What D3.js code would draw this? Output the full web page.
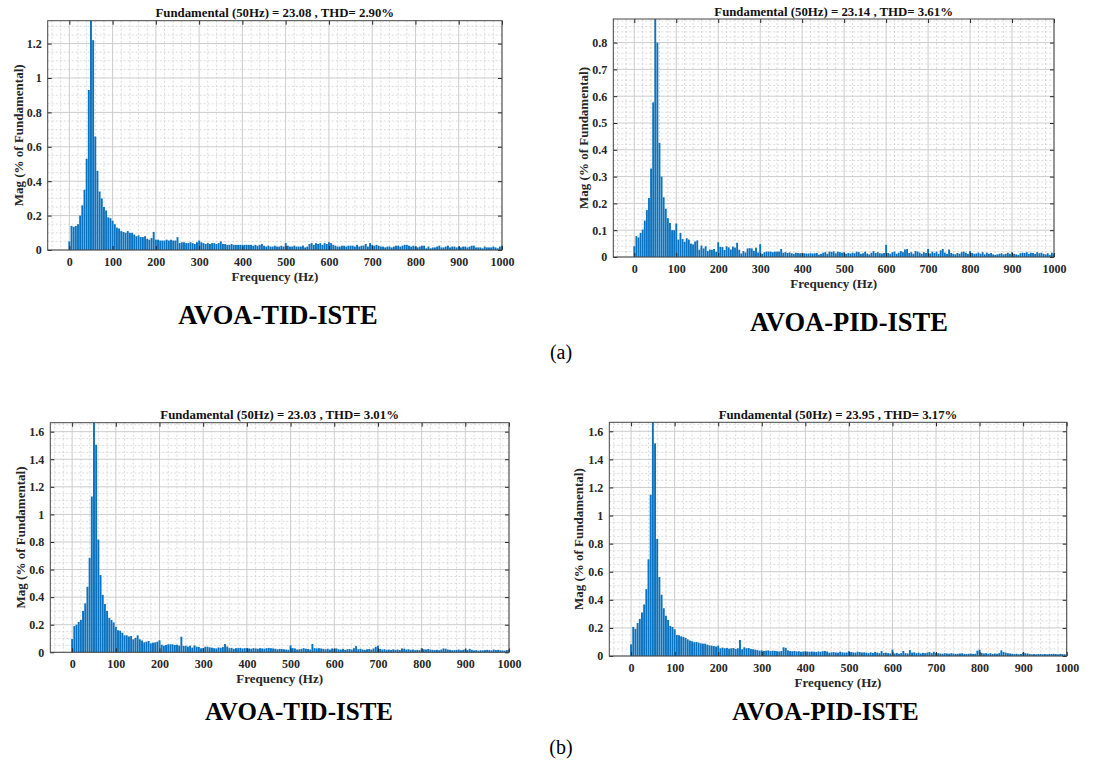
<!DOCTYPE html>
<html>
<head>
<meta charset="utf-8">
<script src="https://cdn.jsdelivr.net/npm/d3@7"></script>
<style>
body{margin:0;background:#fff}
text{font-family:"Liberation Serif","Times New Roman",serif}
</style>
</head>
<body>
<svg id="fig" width="1096" height="760"></svg>
<script>
// harmonic bins, 5 Hz resolution
var freqs = d3.range(0, 1001, 5);

// Mag (% of fundamental); the 50 Hz bin is the fundamental itself
var magTidA = [
0.05,0.14,0.135,0.14,0.15,0.20,0.26,0.35,0.53,0.93, 100,1.22,0.66,0.46,0.34,0.30,0.25,0.23,0.19,0.185,
0.17,0.15,0.13,0.125,0.11,0.105,0.10,0.11,0.10,0.10, 0.09,0.08,0.085,0.075,0.075,0.08,0.065,0.06,0.07,0.105,
0.06,0.06,0.055,0.055,0.055,0.06,0.055,0.06,0.055,0.055, 0.075,0.04,0.045,0.045,0.04,0.04,0.045,0.04,0.035,0.045,
0.055,0.045,0.04,0.035,0.04,0.035,0.04,0.04,0.035,0.04, 0.05,0.035,0.035,0.03,0.03,0.035,0.03,0.03,0.03,0.03,
0.03,0.03,0.03,0.03,0.03,0.025,0.03,0.025,0.03,0.035, 0.025,0.02,0.025,0.02,0.02,0.025,0.02,0.02,0.025,0.02,
0.04,0.025,0.02,0.02,0.025,0.02,0.02,0.02,0.025,0.015, 0.02,0.035,0.04,0.03,0.04,0.035,0.04,0.03,0.04,0.035,
0.045,0.04,0.03,0.025,0.02,0.02,0.025,0.025,0.02,0.025, 0.025,0.025,0.02,0.03,0.02,0.025,0.025,0.035,0.02,0.04,
0.03,0.025,0.03,0.025,0.02,0.02,0.015,0.02,0.02,0.015, 0.02,0.025,0.025,0.02,0.025,0.03,0.03,0.025,0.02,0.025,
0.02,0.015,0.02,0.025,0.025,0.01,0.02,0.01,0.015,0.015, 0.02,0.025,0.015,0.015,0.02,0.025,0.015,0.02,0.02,0.015,
0.02,0.015,0.02,0.02,0.015,0.02,0.025,0.025,0.015,0.015, 0.015,0.01,0.02,0.015,0.015,0.015,0.02,0.015,0.01,0.02,
0.025];

var magPidA = [
0.04,0.078,0.073,0.09,0.102,0.136,0.175,0.22,0.33,0.577, 100,0.80,0.426,0.30,0.223,0.18,0.145,0.127,0.10,0.10,
0.125,0.065,0.09,0.067,0.057,0.07,0.065,0.05,0.047,0.058, 0.062,0.027,0.043,0.032,0.04,0.022,0.028,0.027,0.03,0.02,
0.055,0.038,0.037,0.026,0.04,0.036,0.028,0.039,0.035,0.053, 0.027,0.013,0.022,0.017,0.032,0.033,0.032,0.023,0.035,0.017,
0.048,0.012,0.018,0.02,0.02,0.02,0.018,0.02,0.02,0.02, 0.03,0.016,0.018,0.015,0.017,0.014,0.012,0.016,0.015,0.014,
0.015,0.014,0.013,0.013,0.014,0.013,0.014,0.015,0.009,0.012, 0.016,0.018,0.012,0.02,0.019,0.021,0.014,0.02,0.018,0.016,
0.018,0.012,0.015,0.013,0.016,0.014,0.02,0.018,0.012,0.014, 0.02,0.013,0.01,0.016,0.022,0.015,0.018,0.014,0.013,0.015,
0.045,0.015,0.012,0.018,0.02,0.012,0.016,0.022,0.018,0.028, 0.03,0.015,0.018,0.012,0.022,0.02,0.016,0.012,0.018,0.015,
0.03,0.013,0.02,0.015,0.02,0.012,0.025,0.03,0.016,0.012, 0.028,0.015,0.012,0.01,0.015,0.012,0.018,0.02,0.016,0.012,
0.022,0.015,0.012,0.013,0.016,0.012,0.018,0.01,0.016,0.012, 0.015,0.01,0.008,0.01,0.012,0.014,0.01,0.012,0.016,0.012,
0.018,0.012,0.01,0.008,0.014,0.016,0.015,0.018,0.012,0.016, 0.015,0.012,0.018,0.014,0.016,0.012,0.01,0.014,0.008,0.016,
0.012];

var magTidB = [
0.096,0.19,0.20,0.22,0.235,0.30,0.355,0.475,0.685,1.13, 100,1.505,0.817,0.56,0.417,0.35,0.30,0.25,0.235,0.217,
0.185,0.16,0.157,0.142,0.123,0.123,0.115,0.118,0.094,0.105, 0.123,0.094,0.085,0.072,0.077,0.082,0.065,0.07,0.072,0.077,
0.087,0.055,0.048,0.053,0.058,0.058,0.058,0.053,0.055,0.048, 0.113,0.046,0.048,0.041,0.048,0.034,0.05,0.041,0.039,0.029,
0.031,0.041,0.04,0.036,0.033,0.03,0.028,0.035,0.032,0.038, 0.06,0.042,0.03,0.032,0.025,0.03,0.03,0.032,0.028,0.03,
0.03,0.028,0.026,0.03,0.028,0.026,0.03,0.028,0.026,0.03, 0.032,0.03,0.028,0.026,0.022,0.025,0.024,0.022,0.02,0.018,
0.05,0.03,0.028,0.02,0.022,0.025,0.03,0.026,0.024,0.02, 0.06,0.03,0.028,0.03,0.028,0.025,0.022,0.026,0.02,0.028,
0.025,0.028,0.022,0.02,0.025,0.018,0.022,0.024,0.02,0.03, 0.045,0.022,0.025,0.02,0.018,0.022,0.024,0.02,0.028,0.04,
0.048,0.025,0.02,0.022,0.018,0.02,0.016,0.022,0.018,0.02, 0.016,0.028,0.026,0.02,0.022,0.018,0.02,0.015,0.018,0.016,
0.028,0.022,0.02,0.024,0.02,0.018,0.016,0.018,0.015,0.02, 0.028,0.026,0.02,0.018,0.015,0.016,0.018,0.02,0.015,0.018,
0.022,0.016,0.025,0.018,0.014,0.016,0.012,0.015,0.014,0.016, 0.018,0.016,0.014,0.02,0.016,0.018,0.015,0.014,0.012,0.016,
0.02];

var magPidB = [
0.083,0.207,0.193,0.235,0.264,0.31,0.367,0.476,0.688,1.148, 100,1.514,0.833,0.562,0.436,0.34,0.286,0.257,0.214,0.207,
0.19,0.15,0.148,0.14,0.136,0.13,0.119,0.11,0.105,0.098, 0.10,0.095,0.09,0.088,0.088,0.081,0.076,0.074,0.071,0.067,
0.074,0.055,0.06,0.055,0.057,0.052,0.055,0.057,0.05,0.055, 0.114,0.048,0.062,0.055,0.057,0.05,0.048,0.045,0.042,0.038,
0.04,0.036,0.038,0.04,0.035,0.038,0.036,0.034,0.032,0.036, 0.062,0.058,0.04,0.035,0.034,0.036,0.032,0.034,0.03,0.032,
0.034,0.032,0.03,0.032,0.03,0.028,0.032,0.03,0.034,0.036, 0.032,0.024,0.026,0.028,0.025,0.024,0.03,0.026,0.024,0.025,
0.034,0.028,0.026,0.024,0.03,0.028,0.025,0.026,0.024,0.02, 0.026,0.022,0.028,0.024,0.02,0.035,0.022,0.024,0.02,0.018,
0.045,0.018,0.022,0.016,0.02,0.036,0.02,0.018,0.042,0.024, 0.026,0.02,0.024,0.018,0.022,0.02,0.024,0.028,0.02,0.03,
0.022,0.02,0.018,0.016,0.02,0.018,0.016,0.02,0.018,0.015, 0.016,0.018,0.02,0.015,0.014,0.016,0.018,0.015,0.016,0.038,
0.045,0.022,0.018,0.02,0.016,0.02,0.015,0.018,0.016,0.02, 0.04,0.028,0.024,0.02,0.018,0.016,0.015,0.016,0.012,0.014,
0.024,0.02,0.018,0.015,0.012,0.014,0.012,0.014,0.015,0.012, 0.014,0.012,0.015,0.014,0.016,0.014,0.012,0.015,0.014,0.012,
0.014];

var titles = [
  "Fundamental (50Hz) = 23.08 , THD= 2.90%",
  "Fundamental (50Hz) = 23.14 , THD= 3.61%",
  "Fundamental (50Hz) = 23.03 , THD= 3.01%",
  "Fundamental (50Hz) = 23.95 , THD= 3.17%"
];
var captions = ["AVOA-TID-ISTE", "AVOA-PID-ISTE", "AVOA-TID-ISTE", "AVOA-PID-ISTE"];
var xTicks = d3.range(0, 1001, 100);

var panels = [
  {data:magTidA, yMax:1.333, yStep:0.2, yMinor:0.05, l:47.7, r:502, t:20.7, b:250, ylabX:18, capX:278, capY:324, capSize:26.5},
  {data:magPidA, yMax:0.888, yStep:0.1, yMinor:0.02, l:613.3, r:1054, t:19, b:257, ylabX:583, capX:849, capY:331, capSize:26.5},
  {data:magTidB, yMax:1.665, yStep:0.2, yMinor:0.05, l:50.3, r:509, t:422.7, b:652.3, ylabX:20, capX:299, capY:720, capSize:25},
  {data:magPidB, yMax:1.664, yStep:0.2, yMinor:0.05, l:609.3, r:1066.7, t:422.3, b:656, ylabX:578, capX:825.5, capY:720, capSize:25}
];

var svg = d3.select("#fig");
var ink = "#262626";

function notMajor(v, step){ return Math.abs(v/step - Math.round(v/step)) > 1e-6; }

function drawPanel(p, i){
  var x = d3.scaleLinear().domain([-50, 1000]).range([p.l, p.r]);
  var y = d3.scaleLinear().domain([0, p.yMax]).range([p.b, p.t]);
  var g = svg.append("g");

  g.append("clipPath").attr("id", "clip" + i)
    .append("rect").attr("x", p.l).attr("y", p.t).attr("width", p.r - p.l).attr("height", p.b - p.t);

  // minor grid
  var xMin = d3.range(-40, 1000, 20).filter(v => notMajor(v, 100));
  var nY = Math.floor(p.yMax / p.yMinor + 1e-9);
  var yMin = d3.range(1, nY + 1).map(k => +(k * p.yMinor).toFixed(3)).filter(v => notMajor(v, p.yStep));
  var yTicks = d3.range(0, Math.floor(p.yMax / p.yStep + 1e-9) + 1).map(k => +(k * p.yStep).toFixed(3));

  g.selectAll(".mx").data(xMin).enter().append("line")
    .attr("x1", d => x(d)).attr("x2", d => x(d)).attr("y1", p.t).attr("y2", p.b)
    .attr("stroke", "#d2d2d2").attr("stroke-dasharray", "2,2").attr("stroke-width", 0.8);
  g.selectAll(".my").data(yMin).enter().append("line")
    .attr("x1", p.l).attr("x2", p.r).attr("y1", d => y(d)).attr("y2", d => y(d))
    .attr("stroke", "#d2d2d2").attr("stroke-dasharray", "2,2").attr("stroke-width", 0.8);
  // major grid
  g.selectAll(".gx").data(xTicks).enter().append("line")
    .attr("x1", d => x(d)).attr("x2", d => x(d)).attr("y1", p.t).attr("y2", p.b)
    .attr("stroke", "#cccccc").attr("stroke-width", 1);
  g.selectAll(".gy").data(yTicks).enter().append("line")
    .attr("x1", p.l).attr("x2", p.r).attr("y1", d => y(d)).attr("y2", d => y(d))
    .attr("stroke", "#cccccc").attr("stroke-width", 1);

  // bars
  var bw = x(4.4) - x(0);
  g.append("g").attr("clip-path", "url(#clip" + i + ")")
    .selectAll("rect").data(freqs).enter().append("rect")
    .attr("x", d => x(d) - bw / 2).attr("width", bw)
    .attr("y", (d, k) => y(Math.min(p.data[k], p.yMax * 1.1)))
    .attr("height", (d, k) => y(0) - y(Math.min(p.data[k], p.yMax * 1.1)))
    .attr("fill", "#0a72be");

  // axes
  var fmt = d => String(d);
  g.append("g").attr("transform", "translate(0," + p.b + ")")
    .call(d3.axisBottom(x).tickValues(xTicks).tickSize(-4).tickSizeOuter(0).tickPadding(7.5).tickFormat(fmt));
  g.append("g").attr("transform", "translate(" + p.l + ",0)")
    .call(d3.axisLeft(y).tickValues(yTicks).tickSize(-4).tickSizeOuter(0).tickPadding(6).tickFormat(fmt));
  g.append("g").attr("transform", "translate(0," + p.t + ")")
    .call(d3.axisTop(x).tickValues(xTicks).tickSize(-4).tickSizeOuter(0).tickFormat(""));
  g.append("g").attr("transform", "translate(" + p.r + ",0)")
    .call(d3.axisRight(y).tickValues(yTicks).tickSize(-4).tickSizeOuter(0).tickFormat(""));
  g.selectAll(".domain").remove();
  g.selectAll(".tick line").attr("stroke", ink);
  g.selectAll(".tick text").attr("font-family", "Liberation Serif").attr("font-weight", "bold")
    .attr("font-size", 12).attr("fill", ink);

  g.append("rect").attr("x", p.l).attr("y", p.t).attr("width", p.r - p.l).attr("height", p.b - p.t)
    .attr("fill", "none").attr("stroke", "#444").attr("stroke-width", 1);

  var cx = (p.l + p.r) / 2;
  g.append("text").attr("x", cx).attr("y", p.t - 3.5).attr("text-anchor", "middle")
    .attr("font-weight", "bold").attr("font-size", 12.8).attr("fill", "#111").text(titles[i]);
  g.append("text").attr("x", cx).attr("y", p.b + 31).attr("text-anchor", "middle")
    .attr("font-weight", "bold").attr("font-size", 13).attr("fill", ink).text("Frequency (Hz)");
  g.append("text").attr("transform", "translate(" + p.ylabX + "," + ((p.t + p.b) / 2) + ") rotate(-90)")
    .attr("text-anchor", "middle").attr("dy", "0.35em")
    .attr("font-weight", "bold").attr("font-size", 13).attr("fill", ink).text("Mag (% of Fundamental)");

  svg.append("text").attr("x", p.capX).attr("y", p.capY).attr("text-anchor", "middle")
    .attr("font-weight", "bold").attr("font-size", p.capSize).attr("fill", "#000").text(captions[i]);
}

panels.forEach(drawPanel);

svg.append("text").attr("x", 561).attr("y", 359).attr("text-anchor", "middle")
  .attr("font-size", 20).attr("fill", "#000").text("(a)");
svg.append("text").attr("x", 561).attr("y", 754).attr("text-anchor", "middle")
  .attr("font-size", 20).attr("fill", "#000").text("(b)");
</script>
</body>
</html>
